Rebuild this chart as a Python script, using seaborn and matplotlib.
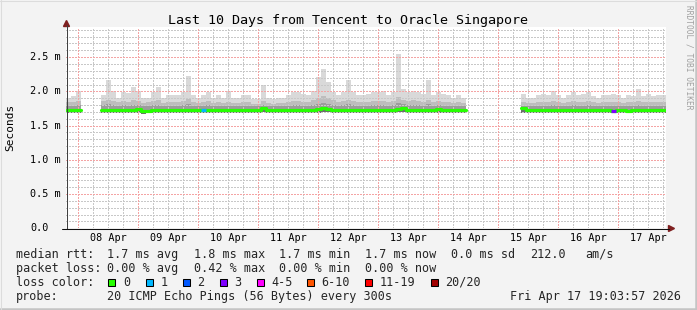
import numpy as np
import pandas as pd
import matplotlib
matplotlib.use("Agg")
import matplotlib.pyplot as plt
import matplotlib.dates as mdates
import matplotlib.ticker as mticker
import matplotlib.transforms as mtransforms
from matplotlib.patches import Polygon, Rectangle
from matplotlib.lines import Line2D
import seaborn as sns

# ---------------- data (2-hour bins, seconds in ms units) ----------------
N = None
t_start = "2026-04-07 19:04"
t_end = "2026-04-17 19:04"

rtt_max = [
    1.91, 1.93, 2.01, N, N, N, N, 1.95, 2.17, 2.01,
    1.90, 1.99, 1.97, 2.06, 2.01, 1.90, 1.91, 1.99, 2.07, 1.90,
    1.95, 1.94, 1.95, 1.99, 2.22, 1.94, 1.91, 1.94, 1.99, 1.91,
    1.94, 1.90, 2.01, 1.90, 1.91, 1.94, 1.94, 1.89, 1.89, 2.09,
    1.90, 1.89, 1.90, 1.90, 1.94, 1.99, 1.99, 1.96, 1.94, 2.01,
    2.21, 2.33, 2.13, 1.99, 1.94, 1.99, 2.17, 1.99, 1.94, 1.94,
    1.96, 1.99, 1.99, 2.00, 1.94, 1.99, 2.55, 2.04, 1.99, 2.01,
    1.99, 1.96, 2.16, 1.94, 1.99, 1.96, 1.94, 1.91, 1.94, 1.91,
    N, N, N, N, N, N, N, N, N, N,
    N, 1.96, 1.91, 1.91, 1.94, 1.96, 1.94, 2.01, 1.94, 1.91,
    1.94, 1.99, 1.94, 1.96, 1.99, 1.93, 1.91, 1.94, 1.94, 1.96,
    1.94, 1.90, 1.94, 1.93, 2.03, 1.93, 1.96, 1.93, 1.94, 1.94,
]
rtt_p80 = [
    1.84, 1.85, 1.86, N, N, N, N, 1.86, 1.88, 1.86,
    1.84, 1.86, 1.85, 1.87, 1.86, 1.83, 1.84, 1.86, 1.87, 1.83,
    1.85, 1.84, 1.85, 1.86, 1.89, 1.84, 1.83, 1.84, 1.86, 1.83,
    1.84, 1.83, 1.85, 1.83, 1.83, 1.84, 1.84, 1.82, 1.82, 1.86,
    1.83, 1.82, 1.83, 1.83, 1.84, 1.86, 1.86, 1.85, 1.85, 1.87,
    1.90, 1.93, 1.90, 1.87, 1.85, 1.86, 1.88, 1.86, 1.85, 1.85,
    1.85, 1.86, 1.86, 1.86, 1.84, 1.86, 1.92, 1.87, 1.86, 1.87,
    1.86, 1.85, 1.88, 1.85, 1.86, 1.85, 1.84, 1.83, 1.84, 1.83,
    N, N, N, N, N, N, N, N, N, N,
    N, 1.85, 1.83, 1.83, 1.84, 1.85, 1.84, 1.86, 1.84, 1.83,
    1.84, 1.86, 1.84, 1.85, 1.86, 1.84, 1.83, 1.84, 1.84, 1.85,
    1.84, 1.83, 1.84, 1.84, 1.86, 1.84, 1.85, 1.84, 1.84, 1.84,
]
rtt_p60 = [
    1.79, 1.79, 1.80, N, N, N, N, 1.80, 1.81, 1.80,
    1.79, 1.80, 1.79, 1.80, 1.80, 1.78, 1.79, 1.80, 1.80, 1.79,
    1.79, 1.79, 1.79, 1.80, 1.81, 1.79, 1.79, 1.79, 1.80, 1.79,
    1.79, 1.78, 1.79, 1.78, 1.78, 1.79, 1.79, 1.78, 1.78, 1.80,
    1.78, 1.78, 1.78, 1.78, 1.79, 1.80, 1.80, 1.79, 1.79, 1.80,
    1.81, 1.83, 1.81, 1.80, 1.79, 1.80, 1.81, 1.80, 1.79, 1.79,
    1.79, 1.80, 1.80, 1.80, 1.79, 1.80, 1.83, 1.81, 1.80, 1.80,
    1.80, 1.79, 1.81, 1.79, 1.80, 1.79, 1.79, 1.78, 1.79, 1.78,
    N, N, N, N, N, N, N, N, N, N,
    N, 1.79, 1.78, 1.78, 1.79, 1.79, 1.79, 1.80, 1.79, 1.78,
    1.79, 1.80, 1.79, 1.79, 1.80, 1.79, 1.78, 1.79, 1.79, 1.79,
    1.79, 1.78, 1.79, 1.79, 1.80, 1.79, 1.79, 1.79, 1.79, 1.79,
]
rtt_min = [
    1.68, 1.68, 1.69, N, N, N, N, 1.69, 1.68, 1.69,
    1.69, 1.69, 1.68, 1.69, 1.68, 1.67, 1.68, 1.69, 1.69, 1.69,
    1.69, 1.69, 1.69, 1.68, 1.69, 1.69, 1.69, 1.68, 1.69, 1.69,
    1.69, 1.69, 1.69, 1.69, 1.69, 1.69, 1.69, 1.69, 1.69, 1.70,
    1.69, 1.69, 1.69, 1.69, 1.69, 1.69, 1.69, 1.69, 1.69, 1.69,
    1.69, 1.70, 1.70, 1.69, 1.69, 1.69, 1.69, 1.69, 1.69, 1.69,
    1.69, 1.69, 1.69, 1.69, 1.69, 1.69, 1.70, 1.70, 1.69, 1.69,
    1.69, 1.69, 1.69, 1.69, 1.69, 1.69, 1.69, 1.69, 1.69, 1.69,
    N, N, N, N, N, N, N, N, N, N,
    N, 1.69, 1.69, 1.69, 1.69, 1.69, 1.69, 1.69, 1.69, 1.69,
    1.69, 1.69, 1.69, 1.69, 1.69, 1.69, 1.69, 1.69, 1.68, 1.68,
    1.69, 1.69, 1.68, 1.68, 1.69, 1.69, 1.69, 1.69, 1.69, 1.69,
]
rtt_median = [
    1.725, 1.725, 1.73, N, N, N, N, 1.73, 1.73, 1.73,
    1.73, 1.73, 1.73, 1.73, 1.745, 1.71, 1.72, 1.73, 1.73, 1.73,
    1.73, 1.73, 1.725, 1.73, 1.73, 1.73, 1.73, 1.73, 1.73, 1.73,
    1.73, 1.73, 1.73, 1.73, 1.73, 1.73, 1.73, 1.73, 1.735, 1.755,
    1.735, 1.73, 1.73, 1.73, 1.73, 1.73, 1.73, 1.73, 1.73, 1.73,
    1.74, 1.755, 1.74, 1.73, 1.73, 1.73, 1.735, 1.73, 1.73, 1.73,
    1.73, 1.735, 1.73, 1.73, 1.73, 1.73, 1.74, 1.755, 1.735, 1.73,
    1.73, 1.73, 1.735, 1.73, 1.745, 1.735, 1.73, 1.73, 1.73, 1.73,
    N, N, N, N, N, N, N, N, N, N,
    N, 1.75, 1.73, 1.73, 1.73, 1.73, 1.73, 1.73, 1.73, 1.73,
    1.73, 1.73, 1.73, 1.73, 1.73, 1.73, 1.73, 1.73, 1.73, 1.71,
    1.73, 1.73, 1.715, 1.725, 1.73, 1.73, 1.73, 1.73, 1.73, 1.735,
]
loss_bins = [27, 109]
loss_levels = [1, 3]

loss_labels = ["0", "1", "2", "3", "4-5", "6-10", "11-19", "20/20"]
loss_colors = ["#26ff00", "#00b8ff", "#0059ff", "#7e00ff", "#ff00ff",
               "#ff5500", "#ff0000", "#a10000"]

day_labels_fmt = "%d %b"
title = "Last 10 Days from Tencent to Oracle Singapore"
ylabel = "Seconds"
ytick_vals = [0.0, 0.5, 1.0, 1.5, 2.0, 2.5]
ytick_text = ["0.0", "0.5 m", "1.0 m", "1.5 m", "2.0 m", "2.5 m"]
legend_rtt = ["median rtt:", "1.7 ms avg", "1.8 ms max", "1.7 ms min",
              "1.7 ms now", "0.0 ms sd", "212.0", "am/s"]
legend_loss = ["packet loss:", "0.00 % avg", "0.42 % max", "0.00 % min",
               "0.00 % now"]
probe_text = ["probe:", "20 ICMP Echo Pings (56 Bytes) every 300s"]
stamp = "Fri Apr 17 19:03:57 2026"
credit = "RRDTOOL / TOBI OETIKER"

# ---------------- figure ----------------
sns.set_theme(style="white")
plt.rcParams["font.family"] = ["DejaVu Sans Mono", "DejaVu Sans"]

W, H = 697, 310
fig = plt.figure(figsize=(W / 100, H / 100), dpi=100, facecolor="#f3f3f3")


def fx(x):
    return x / W


def fy(y):
    return 1 - y / H


AX_L, AX_R, AX_T, AX_B = 66, 666, 27, 228.3
ax = fig.add_axes([fx(AX_L), fy(AX_B), (AX_R - AX_L) / W, (AX_B - AX_T) / H])
ax.set_facecolor("white")
for s in ax.spines.values():
    s.set_visible(False)

times = pd.date_range(t_start, periods=len(rtt_max), freq="2h")
step = pd.Timedelta(hours=2)
tnum = mdates.date2num(times)
wnum = 2 / 24

hi = np.array(rtt_max, dtype=float)
p80 = np.array(rtt_p80, dtype=float)
p60 = np.array(rtt_p60, dtype=float)
lo = np.array(rtt_min, dtype=float)
med = np.array(rtt_median, dtype=float)

bar_kw = dict(width=wnum, align="edge", linewidth=0, antialiased=False)
ax.bar(tnum, hi - lo, bottom=lo, color="#d9d9d9", zorder=1, **bar_kw)
ax.bar(tnum, p80 - lo, bottom=lo, color="#bdbdbd", zorder=2, **bar_kw)
ax.bar(tnum, p60 - lo, bottom=lo, color="#9c9c9c", zorder=3, **bar_kw)
ax.bar(tnum, (med + 0.012) - lo, bottom=lo, color="#6e6e6e", zorder=4, **bar_kw)

ax.set_xlim(pd.Timestamp(t_start), pd.Timestamp(t_end))
ax.set_ylim(0, 2.94)

# grid (drawn above the smoke), dotted lines
x0, x1 = mdates.date2num(pd.Timestamp(t_start)), mdates.date2num(pd.Timestamp(t_end))
six_h = mdates.HourLocator(byhour=[0, 6, 12, 18]).tick_values(pd.Timestamp(t_start), pd.Timestamp(t_end))
days = mdates.DayLocator().tick_values(pd.Timestamp(t_start), pd.Timestamp(t_end))
dot = (0, (2, 2))
gkw = dict(lw=0.72, ls=dot, antialiased=False)
GRAY, RED = "#c8c8c8", "#f4a4a4"
for v in six_h:
    if x0 < v < x1:
        ax.axvline(v, color=GRAY, zorder=5, **gkw)
for v in days:
    if x0 < v < x1:
        ax.axvline(v, color=RED, zorder=6, **gkw)
for v in mticker.MultipleLocator(0.1).tick_values(0, 2.94):
    v = round(v, 2)
    if 0 < v < 2.94:
        major = abs(v * 2 - round(v * 2)) < 1e-6
        ax.axhline(v, color=RED if major else GRAY,
                   zorder=6 if major else 5, **gkw)

# median line through seaborn, one unit per contiguous run
rows = []
run = 0
prev_nan = True
for i in range(len(med)):
    if np.isnan(med[i]):
        prev_nan = True
        continue
    if prev_nan:
        run += 1
        prev_nan = False
    rows.append((times[i], med[i], run))
    if i + 1 == len(med) or np.isnan(med[i + 1]):
        rows.append((times[i] + step, med[i], run))
df = pd.DataFrame(rows, columns=["time", "median", "run"])
sns.lineplot(data=df, x="time", y="median", units="run", estimator=None,
             drawstyle="steps-post", color=loss_colors[0], linewidth=2.3,
             ax=ax, legend=False, zorder=8)
for b, lvl in zip(loss_bins, loss_levels):
    ax.hlines(med[b], times[b], times[b] + step, color=loss_colors[lvl],
              lw=2.3, zorder=9)

ax.set_xlabel("")
ax.set_ylabel("")
ax.set_yticks([])
ax.xaxis.set_major_locator(mdates.HourLocator(byhour=[12]))
ax.xaxis.set_major_formatter(mdates.DateFormatter(day_labels_fmt))
ax.tick_params(axis="x", length=0, pad=3.2, labelsize=7.3, colors="black")
ax.set_xlim(pd.Timestamp(t_start), pd.Timestamp(t_end))

# y tick labels (right aligned, value part aligned)
ytr = mtransforms.blended_transform_factory(fig.transFigure, ax.transData)
for v, s in zip(ytick_vals, ytick_text):
    xr = 60.5 if s.endswith("m") else 48.3
    fig.text(fx(xr), v, s, transform=ytr, ha="right", va="center",
             fontsize=7.3, color="black")

# axis lines and arrows
arrow_c = "#7f1f1f"
fig.add_artist(Line2D([fx(66.5), fx(66.5)], [fy(228.5), fy(25)], color="#404040", lw=0.75))
fig.add_artist(Line2D([fx(62), fx(669)], [fy(228.5), fy(228.5)], color="#101010", lw=0.75))
fig.add_artist(Polygon([[fx(66.5), fy(20.5)], [fx(63.5), fy(26.5)], [fx(69.5), fy(26.5)]],
                       closed=True, color=arrow_c, transform=fig.transFigure))
fig.add_artist(Polygon([[fx(674.5), fy(228.5)], [fx(668.5), fy(225.5)], [fx(668.5), fy(231.5)]],
                       closed=True, color=arrow_c, transform=fig.transFigure))

# title, axis label, credit
fig.text(fx(348.5), fy(24), title, ha="center", va="baseline", fontsize=9.6, color="black")
fig.text(fx(10.5), fy(127.5), ylabel, ha="center", va="center", rotation=90,
         fontsize=8, color="black")
fig.text(fx(688.5), fy(5), credit, ha="center", va="top", rotation=270,
         fontsize=5.7, color="#a0a0a0")

# legend lines
LF = 8.5
rtt_x = [16, 107.3, 194, 279.3, 365, 451, 530.3, 585]
for x, s in zip(rtt_x, legend_rtt):
    fig.text(fx(x), fy(257.7), s, ha="left", va="baseline", fontsize=LF)
loss_x = [16, 107.3, 194, 279.3, 365]
for x, s in zip(loss_x, legend_loss):
    fig.text(fx(x), fy(271.7), s, ha="left", va="baseline", fontsize=LF)
fig.text(fx(16), fy(285.7), "loss color:", ha="left", va="baseline", fontsize=LF)
sq_x = [108.3, 145.7, 182.7, 220, 257, 306.7, 365, 430.7]
for x, lab, c in zip(sq_x, loss_labels, loss_colors):
    fig.add_artist(Rectangle((fx(x), fy(285.5)), 7 / W, 7 / H, transform=fig.transFigure,
                             facecolor=c, edgecolor="black", lw=0.75))
    fig.text(fx(x + 14.5), fy(285.7), lab, ha="left", va="baseline", fontsize=LF)
fig.text(fx(16), fy(300), probe_text[0], ha="left", va="baseline", fontsize=LF)
fig.text(fx(107.3), fy(300), probe_text[1], ha="left", va="baseline", fontsize=LF)
fig.text(fx(680.5), fy(300), stamp, ha="right", va="baseline", fontsize=LF)

# outer frame
fig.add_artist(Line2D([0, 1], [fy(308.8), fy(308.8)], color="#c4c4c4", lw=1.8))
fig.add_artist(Line2D([fx(695.8), fx(695.8)], [0, 1], color="#c4c4c4", lw=1.8))
fig.add_artist(Line2D([0, 1], [fy(0.5), fy(0.5)], color="#dcdcdc", lw=0.75))
fig.add_artist(Line2D([fx(0.5), fx(0.5)], [0, 1], color="#dcdcdc", lw=0.75))

fig.savefig("out.png", dpi=100, facecolor=fig.get_facecolor())
